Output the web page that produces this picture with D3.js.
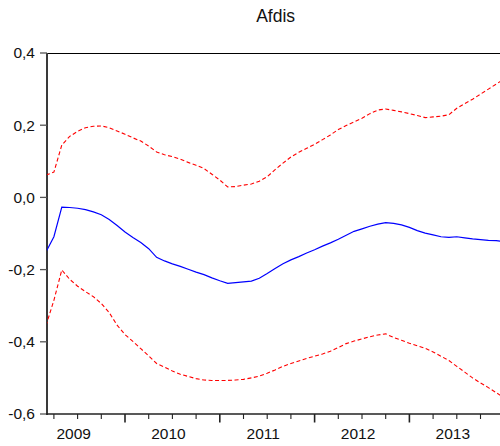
<!DOCTYPE html>
<html>
<head>
<meta charset="utf-8">
<script src="https://cdn.jsdelivr.net/npm/d3@7"></script>
<style>
  html, body { margin: 0; padding: 0; background: #fff; }
  svg { display: block; font-family: "Liberation Sans", Arial, sans-serif; }
</style>
</head>
<body>
<svg id="chart" width="500" height="446"></svg>
<script>
// Monthly observations, 2009M03 onward
const startYear = 2009;
const startMonth = 3;

// Impulse response (solid blue)
const response = [
  -0.151, -0.109, -0.027, -0.028, -0.030, -0.034, -0.040, -0.048, -0.061, -0.078,
  -0.096, -0.111, -0.125, -0.142, -0.166, -0.176, -0.184, -0.191, -0.199, -0.207,
  -0.214, -0.223, -0.231, -0.238, -0.236, -0.234, -0.232, -0.224, -0.211, -0.197,
  -0.184, -0.173, -0.164, -0.154, -0.145, -0.135, -0.126, -0.116, -0.105, -0.094,
  -0.087, -0.080, -0.074, -0.070, -0.072, -0.076, -0.083, -0.092, -0.099, -0.104,
  -0.109, -0.111, -0.109, -0.112, -0.115, -0.117, -0.119, -0.120, -0.122
];

// Upper band (dashed red)
const upperBand = [
  0.062, 0.070, 0.145, 0.169, 0.183, 0.193, 0.197, 0.198, 0.193, 0.184,
  0.175, 0.165, 0.156, 0.142, 0.126, 0.118, 0.113, 0.106, 0.097, 0.089,
  0.080, 0.064, 0.048, 0.029, 0.030, 0.034, 0.037, 0.045, 0.057, 0.077,
  0.095, 0.112, 0.125, 0.136, 0.147, 0.160, 0.173, 0.188, 0.199, 0.209,
  0.219, 0.232, 0.242, 0.245, 0.241, 0.237, 0.232, 0.227, 0.221, 0.223,
  0.225, 0.229, 0.247, 0.260, 0.272, 0.286, 0.300, 0.314, 0.328
];

// Lower band (dashed red)
const lowerBand = [
  -0.355, -0.285, -0.201, -0.227, -0.246, -0.261, -0.275, -0.294, -0.319, -0.354,
  -0.380, -0.399, -0.419, -0.439, -0.460, -0.470, -0.481, -0.490, -0.496, -0.502,
  -0.506, -0.507, -0.507, -0.507, -0.506, -0.504, -0.500, -0.495, -0.487, -0.478,
  -0.468, -0.460, -0.453, -0.446, -0.440, -0.434, -0.426, -0.416, -0.405, -0.398,
  -0.392, -0.386, -0.381, -0.378, -0.388, -0.396, -0.404, -0.411, -0.418, -0.428,
  -0.440, -0.452, -0.468, -0.484, -0.500, -0.514, -0.527, -0.541, -0.555
];

const yTicks = [0.4, 0.2, 0.0, -0.2, -0.4, -0.6];
const yearLabels = ["2009", "2010", "2011", "2012", "2013"];
const title = "Afdis";

// decimal time of each observation
const times = response.map((_, i) => {
  const m = startMonth - 1 + i;
  return startYear + Math.floor(m / 12) + (m % 12) / 12;
});

const svg = d3.select("#chart");
const plot = { left: 47, top: 53, bottom: 414, right: 504.2 };

const x = d3.scaleLinear().domain([2009, 2014]).range([30.2, 504.2]);
const y = d3.scaleLinear().domain([-0.6, 0.4]).range([plot.bottom, plot.top]);

const fmt = v => d3.format(".1f")(v).replace(".", ",").replace("−", "-");

svg.append("defs").append("clipPath").attr("id", "clip")
  .append("rect")
  .attr("x", plot.left).attr("y", plot.top - 2)
  .attr("width", plot.right - plot.left).attr("height", plot.bottom - plot.top + 4);

// title
svg.append("text")
  .attr("x", (plot.left + plot.right) / 2)
  .attr("y", 21.7)
  .attr("text-anchor", "middle")
  .attr("font-size", 17.5)
  .attr("fill", "#111")
  .text(title);

// top frame line
svg.append("line")
  .attr("x1", plot.left).attr("x2", plot.right)
  .attr("y1", plot.top + 0.5).attr("y2", plot.top + 0.5)
  .attr("stroke", "#000").attr("stroke-width", 1);

// y axis
const yAxis = svg.append("g");
yAxis.append("line")
  .attr("x1", plot.left).attr("x2", plot.left)
  .attr("y1", plot.top).attr("y2", plot.bottom + 1)
  .attr("stroke", "#3a3a3a").attr("stroke-width", 2);
yAxis.selectAll("line.tick").data(yTicks).join("line")
  .attr("class", "tick")
  .attr("x1", 40).attr("x2", plot.left)
  .attr("y1", d => y(d)).attr("y2", d => y(d))
  .attr("stroke", "#555").attr("stroke-width", 1.3);
yAxis.selectAll("text").data(yTicks).join("text")
  .attr("x", 35).attr("y", d => y(d) + 5.4)
  .attr("text-anchor", "end")
  .attr("font-size", 15.5)
  .attr("fill", "#111")
  .text(fmt);

// x axis
const xAxis = svg.append("g");
xAxis.append("line")
  .attr("x1", plot.left - 1).attr("x2", plot.right)
  .attr("y1", plot.bottom).attr("y2", plot.bottom)
  .attr("stroke", "#222").attr("stroke-width", 1.5);

const quarterTicks = [];
for (let yr = 2009; yr <= 2014; yr++) {
  for (let q = 0; q < 4; q++) {
    const t = yr + q * 3 / 12;
    if (x(t) > plot.left + 2 && x(t) <= 500) quarterTicks.push({ t, major: q === 0 });
  }
}
xAxis.selectAll("line.tick").data(quarterTicks).join("line")
  .attr("class", "tick")
  .attr("x1", d => x(d.t)).attr("x2", d => x(d.t))
  .attr("y1", plot.bottom).attr("y2", d => plot.bottom + (d.major ? 8.5 : 5))
  .attr("stroke", "#222").attr("stroke-width", d => d.major ? 1.6 : 1.1);

xAxis.selectAll("text").data(yearLabels).join("text")
  .attr("x", d => x(+d + 5.5 / 12))
  .attr("y", 439.3)
  .attr("text-anchor", "middle")
  .attr("font-size", 15.5)
  .attr("fill", "#111")
  .text(d => d);

// series
const line = d3.line().x((d, i) => x(times[i])).y(d => y(d));
const g = svg.append("g").attr("clip-path", "url(#clip)");

g.append("path").datum(upperBand)
  .attr("d", line).attr("fill", "none")
  .attr("stroke", "#ff0000").attr("stroke-width", 1.1)
  .attr("stroke-dasharray", "4,2.5");
g.append("path").datum(lowerBand)
  .attr("d", line).attr("fill", "none")
  .attr("stroke", "#ff0000").attr("stroke-width", 1.1)
  .attr("stroke-dasharray", "4,2.5");
g.append("path").datum(response)
  .attr("d", line).attr("fill", "none")
  .attr("stroke", "#0000ff").attr("stroke-width", 1.2);
</script>
</body>
</html>
